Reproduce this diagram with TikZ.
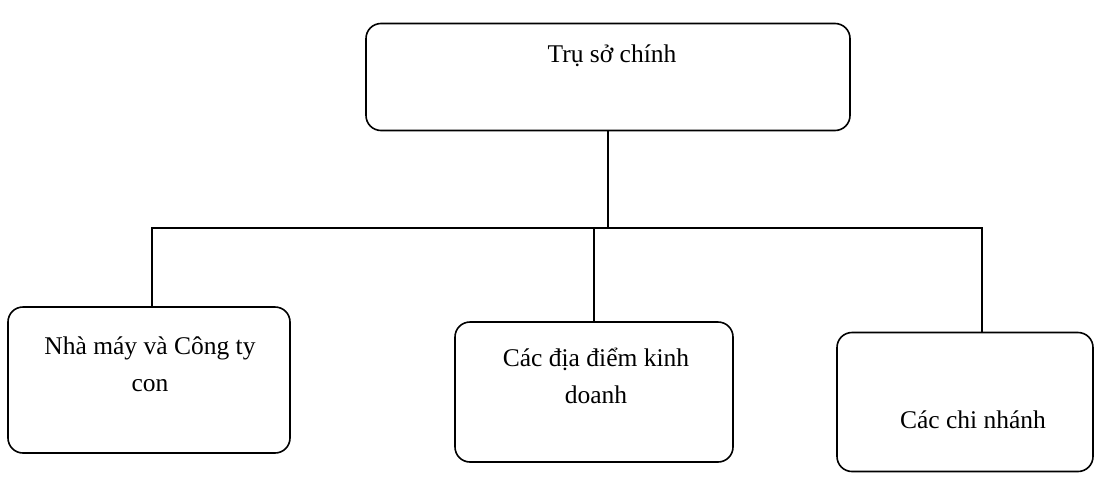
\documentclass[tikz,border=0pt]{standalone}
\usepackage{fontspec}
\setmainfont{Liberation Serif}
\usepackage{tikz}
\usetikzlibrary{positioning,calc}
\tikzset{
  unitbox/.style={rounded corners=15pt,draw=black,line width=1.6pt,inner sep=0pt},
  unittext/.style={align=center,font=\fontsize{25.5}{37}\selectfont,inner sep=0pt},
  link/.style={line width=1.6pt,draw=black}
}
\begin{document}
\begin{tikzpicture}[x=1pt,y=-1pt]
  \useasboundingbox (0,0) rectangle (1106,477);
  % boxes
  \node[unitbox,minimum width=484pt,minimum height=107pt] (hq) at (608,77) {};
  \node[unitbox,minimum width=282pt,minimum height=146pt] (factory) at (149,380) {};
  \node[unitbox,minimum width=278pt,minimum height=140pt] (sites) at (594,392) {};
  \node[unitbox,minimum width=256pt,minimum height=139pt] (branch) at (965,402) {};
  % texts
  \node[unittext] (hqtext) at (612,56) {Trụ sở chính};
  \node[unittext] (factorytext) at (150,364) {Nhà máy và Công ty\\con};
  \node[unittext] (sitestext) at (596,376) {Các địa điểm kinh\\doanh};
  \node[unittext] (branchtext) at (973,420) {Các chi nhánh};
  % connectors
  \coordinate (busL) at (152,228);
  \coordinate (busR) at (982,228);
  \draw[link] (hq.south) -- (hq.south |- busL);
  \draw[link] (factory.north -| busL) -- (busL) -- (busR) -- (busR |- branch.north);
  \draw[link] (busL -| sites.north) -- (sites.north);
\end{tikzpicture}
\end{document}
